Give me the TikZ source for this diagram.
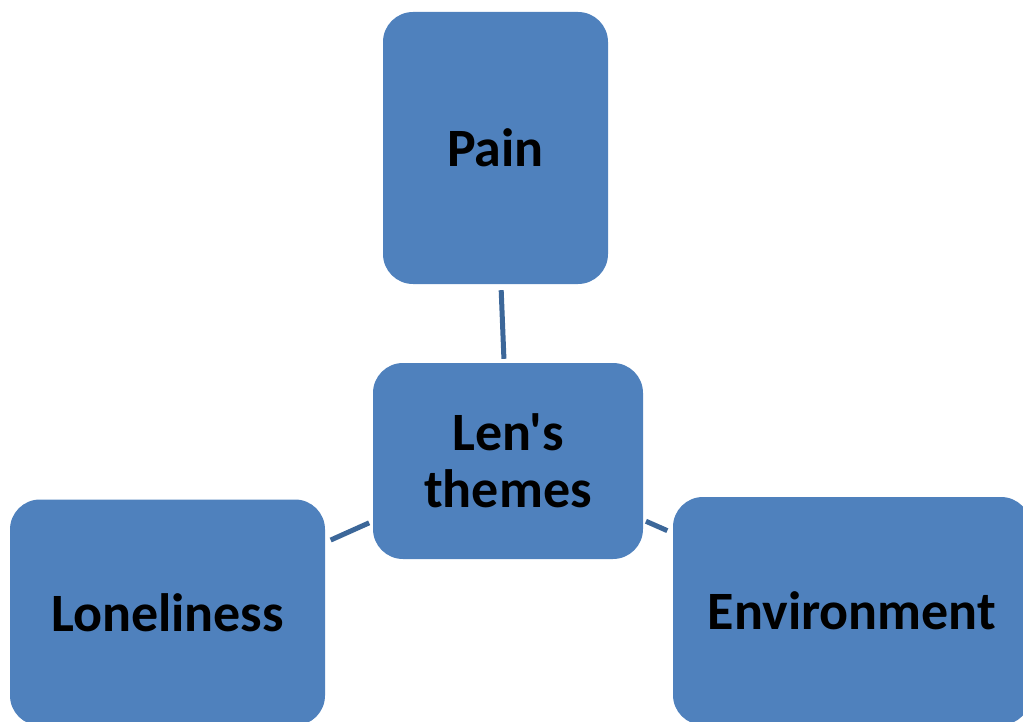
\documentclass[tikz,border=0pt]{standalone}
\usepackage{fontspec}
\setmainfont{Carlito}[Ligatures=TeXOff]
\definecolor{boxblue}{HTML}{4F81BD}
\definecolor{linkblue}{HTML}{3C6799}
\begin{document}
\begin{tikzpicture}[x=1pt,y=-1pt,
  theme/.style={fill=boxblue, draw=none, rounded corners=30pt, inner sep=0pt,
    font=\fontsize{54}{57}\selectfont\bfseries, text=black, align=center},
  link/.style={draw=linkblue, line width=5pt}]
\useasboundingbox (0,0) rectangle (1023,722);
\clip (0,0) rectangle (1023,722);
\node[theme, minimum width=225pt, minimum height=272pt] (pain) at (495.5,148) {Pain};
\node[theme, minimum width=270pt, minimum height=196pt] (len) at (508,461) {Len's\\themes};
\node[theme, minimum width=315pt, minimum height=226pt] (lone) at (167.5,612.5) {Loneliness};
\node[theme, minimum width=358pt, minimum height=228pt] (env) at (852,611) {Environment};
\draw[link, shorten <=6pt, shorten >=4pt] (pain) -- (len);
\draw[link, shorten <=4pt, shorten >=6pt] (len) -- (lone);
\draw[link, shorten <=3pt, shorten >=6pt] (len) -- (env);
\end{tikzpicture}
\end{document}
